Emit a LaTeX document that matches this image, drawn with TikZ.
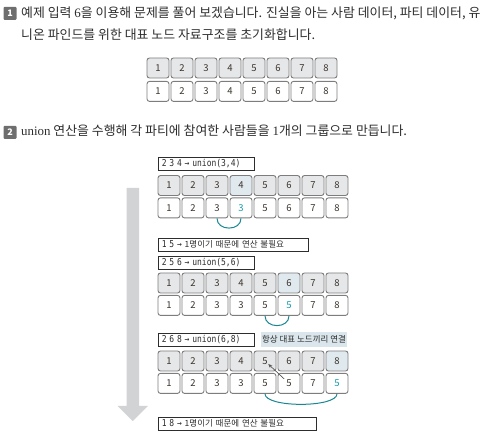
\documentclass[tikz,border=0pt]{standalone}
\usepackage{fontspec}
\setmainfont{Noto Sans CJK KR}
\newfontfamily\latinfont{Liberation Serif}
\newfontfamily\codefont[FakeStretch=0.84]{DejaVu Sans Mono}
\usetikzlibrary{positioning,arrows.meta}
\definecolor{cink}{RGB}{45,45,45}
\definecolor{cnum}{RGB}{60,52,45}
\definecolor{cedge}{RGB}{125,125,125}
\definecolor{ctop}{RGB}{230,231,233}
\definecolor{cpick}{RGB}{224,233,238}
\definecolor{cteal}{RGB}{20,155,175}
\definecolor{carc}{RGB}{25,135,145}
\definecolor{cnote}{RGB}{218,230,236}
\definecolor{cshade}{RGB}{210,211,213}
\definecolor{cbadge}{RGB}{110,110,110}
\newcommand{\opcode}[1]{{\fontsize{9.5}{10}\selectfont\codefont #1}}

\begin{document}
\begin{tikzpicture}[x=1pt,y=-1pt,
    topcell/.style={rectangle, draw=cedge, line width=0.9pt, rounded corners=2.5pt, fill=ctop,
      minimum width=22pt, minimum height=20pt, inner sep=0pt, text=cnum, font=\fontsize{9.5}{10}\selectfont},
    botcell/.style={topcell, fill=white},
    asis/.style={},
    picked/.style={fill=cpick},
    changed/.style={text=cteal},
    opbox/.style={rectangle, draw=cink, line width=0.6pt, fill=white, anchor=west, minimum height=13pt,
      inner xsep=3.5pt, inner ysep=0pt, align=left, text=cink, font=\fontsize{8.5}{10}\selectfont},
    badge/.style={rectangle, fill=cbadge, rounded corners=1pt, minimum size=13pt, inner sep=0pt,
      text=white, font=\fontsize{9}{10}\selectfont\bfseries},
    heading/.style={anchor=west, inner sep=0pt, text=cink, font=\fontsize{12.9}{14}\selectfont},
    link/.style={carc, line width=1pt},
    pointer/.style={-{Stealth[length=4pt,width=3.5pt]}, cedge!70!black, line width=0.7pt}]
    \useasboundingbox (0,0) rectangle (485,435);

    % step 1
    \node[badge] (Badge1) at (10,13.5) {1};
    \node[heading] (Line1) at (21,13) {예제 입력 {\latinfont 6}을 이용해 문제를 풀어 보겠습니다. 진실을 아는 사람 데이터, 파티 데이터, 유};
    \node[heading] (Line2) at (21,35) {니온 파인드를 위한 대표 노드 자료구조를 초기화합니다.};
    \foreach \v [count=\i] in {1,...,8} {
      \node[topcell] (t0-\i) at ({158+24*(\i-1)},68) {\v};
      \node[botcell] (b0-\i) [below=2.5pt of t0-\i] {\v};
    }

    % step 2
    \node[badge] (Badge2) at (10,132.5) {2};
    \node[heading] (Line3) at (21,131) {{\latinfont union} 연산을 수행해 각 파티에 참여한 사람들을 {\latinfont 1}개의 그룹으로 만듭니다.};
    \fill[cshade] (126.5,188) -- (139,188) -- (139,406) -- (148,406) -- (132.75,421) -- (117.5,406) -- (126.5,406) -- cycle;

    \node[opbox, text width=89pt] (Op1) at (158,163.5) {\opcode{2 3 4 → union(3,4)}};
    \foreach \v/\s [count=\i] in {1/asis,2/asis,3/asis,4/picked,5/asis,6/asis,7/asis,8/asis}
      \node[topcell,\s] (t1-\i) at ({169+24*(\i-1)},185.5) {\v};
    \foreach \v/\s [count=\i] in {1/asis,2/asis,3/asis,3/changed,5/asis,6/asis,7/asis,8/asis}
      \node[botcell,\s] (b1-\i) [below=1.5pt of t1-\i] {\v};
    \draw[link] (b1-3.south) .. controls +(0,13) and +(0,13) .. (b1-4.south);

    \node[opbox, text width=143pt] (Op2) at (158,244.5) {\opcode{1 5 → }1명이기 때문에 연산 불필요};
    \node[opbox, text width=89pt] (Op3) at (158,262.5) {\opcode{2 5 6 → union(5,6)}};
    \foreach \v/\s [count=\i] in {1/asis,2/asis,3/asis,4/asis,5/asis,6/picked,7/asis,8/asis}
      \node[topcell,\s] (t2-\i) at ({169+24*(\i-1)},283) {\v};
    \foreach \v/\s [count=\i] in {1/asis,2/asis,3/asis,3/asis,5/asis,5/changed,7/asis,8/asis}
      \node[botcell,\s] (b2-\i) [below=1.5pt of t2-\i] {\v};
    \draw[link] (b2-5.south) .. controls +(0,13) and +(0,13) .. (b2-6.south);

    \node[opbox, text width=89pt] (Op4) at (158,339.5) {\opcode{2 6 8 → union(6,8)}};
    \node[fill=cnote, minimum width=86pt, minimum height=15pt, inner sep=0pt, text=cink,
      font=\fontsize{8.5}{10}\selectfont] (Note) at (304,339.5) {항상 대표 노드끼리 연결};
    \foreach \v/\s [count=\i] in {1/asis,2/asis,3/asis,4/asis,5/asis,6/asis,7/asis,8/picked}
      \node[topcell,\s] (t3-\i) at ({169+24*(\i-1)},361) {\v};
    \foreach \v/\s [count=\i] in {1/asis,2/asis,3/asis,3/asis,5/asis,5/asis,7/asis,5/changed}
      \node[botcell,\s] (b3-\i) [below=1.5pt of t3-\i] {\v};
    \draw[link] (b3-5.south) .. controls +(0,14) and +(0,14) .. (b3-8.south);
    \draw[pointer, shorten <=6.5pt, shorten >=4.5pt] (b3-6.center) -- (t3-5.center);

    \node[opbox, text width=151pt] (Op5) at (158,423.5) {\opcode{1 8 → }1명이기 때문에 연산 불필요};
  \end{tikzpicture}
\end{document}
